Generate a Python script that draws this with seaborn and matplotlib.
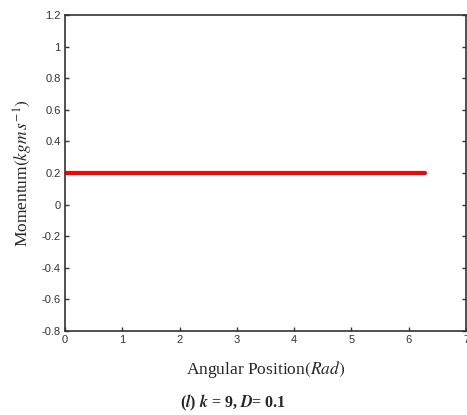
import matplotlib
matplotlib.use("Agg")
import seaborn as sns
import matplotlib.pyplot as plt
import pandas as pd

# data
angular_position = [0.0, 6.28]
momentum = [0.2, 0.2]
x_ticks = [0, 1, 2, 3, 4, 5, 6, 7]
y_ticks = [-0.8, -0.6, -0.4, -0.2, 0, 0.2, 0.4, 0.6, 0.8, 1, 1.2]

df = pd.DataFrame({'theta': angular_position, 'p': momentum})

sns.set_style("ticks")
plt.rcParams['font.family'] = ['Liberation Sans', 'DejaVu Sans']
plt.rcParams['mathtext.fontset'] = 'stix'

fig = plt.figure(figsize=(4.67, 4.15), dpi=100)
ax = fig.add_axes([65 / 467, 1 - 331 / 415, 401 / 467, 316 / 415])

sns.lineplot(x='theta', y='p', data=df, color='#ff0000', linewidth=3, ax=ax)

ax.set_xlim(0, 7)
ax.set_ylim(-0.8, 1.2)
ax.set_xticks(x_ticks)
ax.set_yticks(y_ticks)
ax.set_yticklabels([f"{v:g}" for v in y_ticks])
ax.tick_params(direction='in', length=3, width=1, labelsize=8, colors='#333333',
               right=True, top=False, pad=3)
ax.tick_params(axis='x', pad=3)
for s in ax.spines.values():
    s.set_color('#333333')
    s.set_linewidth(1.2)

ax.set_xlabel(r"Angular Position$(Rad)$", family='Liberation Serif', fontsize=12.5, labelpad=10)
ax.set_ylabel(r"Momentum$(kgm\,s^{-1})$", family='Liberation Serif', fontsize=12.5, labelpad=5)

fig.text(0.5, 1 - 403 / 415, r"($\mathbfit{l}$) $\mathbfit{k}$ = 9, $\mathbfit{D}$= 0.1",
         ha='center', va='center', family='Liberation Serif', fontweight='bold', fontsize=11.5)

fig.savefig('out.png', dpi=100)
